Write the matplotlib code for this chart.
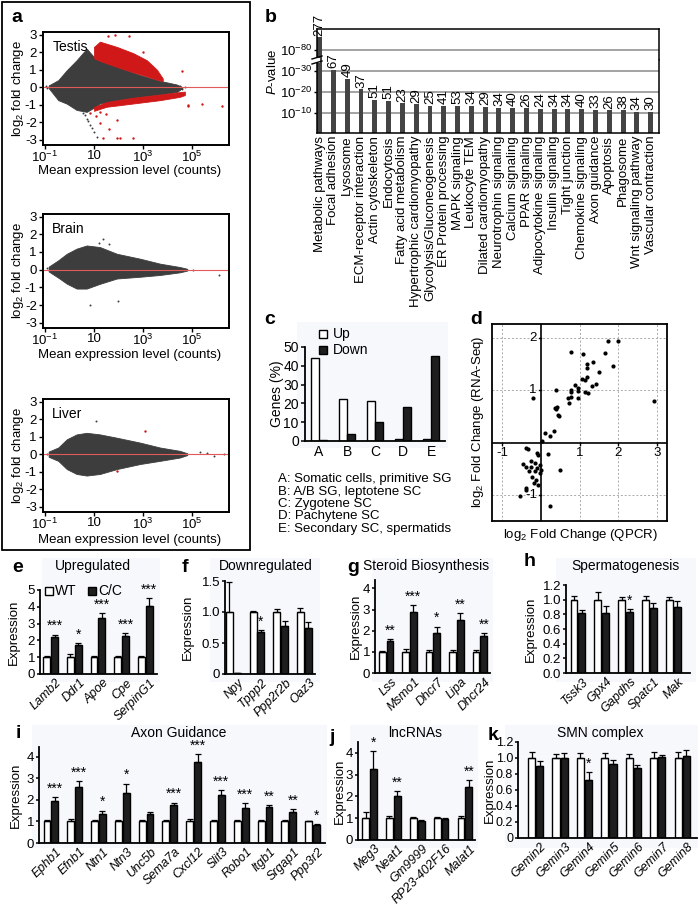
import matplotlib
matplotlib.use("Agg")
import matplotlib.pyplot as plt
from matplotlib.patches import Rectangle
from matplotlib.lines import Line2D
from matplotlib.ticker import NullLocator
import numpy as np

plt.rcParams['font.family'] = ['Liberation Sans', 'DejaVu Sans']
plt.rcParams['font.size'] = 9.5
plt.rcParams['mathtext.fontset'] = 'custom'
plt.rcParams['mathtext.rm'] = 'Liberation Sans'
plt.rcParams['mathtext.it'] = 'Liberation Sans:italic'
plt.rcParams['axes.linewidth'] = 1.1

W, H = 700, 907
GRAY = '#3d3d3d'
RED = '#d01818'
TINT = '#f6f8fc'

# ─── a: MA plots (cloud envelopes in log10 counts / log2 FC) ───
T_X = [-0.85, -0.46, -0.11, 0.29, 0.70, 1.04, 1.24, 1.93, 2.88, 3.69, 4.38, 4.6]
T_TOP = [0.1, 0.4, 0.97, 1.54, 2.2, 1.65, 1.5, 1.16, 0.69, 0.36, 0.15, 0.0]
T_BOT = [-0.05, -0.74, -0.94, -1.3, -1.41, -1.13, -0.93, -0.74, -0.55, -0.42, -0.27, -0.05]
T_RU_X = [1.0, 1.24, 1.93, 2.6, 3.15, 3.56, 3.8]
T_RU_TOP = [2.3, 2.6, 2.3, 1.94, 1.54, 1.0, 0.5]
T_RU_BOT = [1.65, 1.5, 1.16, 0.85, 0.62, 0.43, 0.35]
T_RL_X = [1.0, 1.5, 2.6, 3.69, 4.5, 4.7]
T_RL_TOP = [-1.13, -0.85, -0.6, -0.42, -0.28, -0.25]
T_RL_BOT = [-1.35, -1.12, -0.93, -0.74, -0.55, -0.45]
T_GRAY_PTS = [(0.55, -1.45), (0.63, -1.6), (0.7, -1.8), (0.77, -1.95), (0.84, -2.17),
              (0.92, -2.35), (1.0, -2.55), (1.11, -2.84), (-0.95, 0.05), (-0.9, -0.02),
              (4.5, 0.05), (4.6, -0.1), (4.7, 0.0)]
T_RED_PTS = [(1.08, -1.66), (1.24, -2.04), (1.48, -1.55), (1.62, -2.4), (1.35, -2.9),
             (1.93, -2.9), (2.06, -2.9), (2.6, -2.9), (0.84, -1.5), (1.93, -1.88),
             (1.24, -1.4), (1.57, 2.92), (1.84, 3.0), (2.43, 2.92), (2.99, 2.0),
             (4.6, 0.95), (4.84, -1.0), (4.84, -1.1), (5.4, -0.98), (6.22, -1.05)]

B_X = [-0.85, -0.46, -0.11, 0.29, 0.70, 1.24, 1.93, 2.88, 3.69, 4.5, 4.8]
B_TOP = [0.17, 0.53, 0.9, 1.19, 1.37, 1.28, 0.9, 0.62, 0.34, 0.15, 0.05]
B_BOT = [-0.1, -0.45, -0.79, -1.07, -1.07, -0.8, -0.5, -0.4, -0.3, -0.15, -0.05]
B_GRAY_PTS = [(0.84, -2.0), (1.99, -1.8), (1.38, 1.75), (1.2, 1.5), (5.05, -0.03),
              (6.1, -0.3), (-0.92, 0.1), (1.6, 1.45)]

L_X = [-0.85, -0.46, -0.11, 0.29, 0.70, 1.24, 1.93, 2.88, 3.69, 4.5, 4.8]
L_TOP = [0.15, 0.38, 0.85, 1.13, 1.22, 1.13, 0.94, 0.66, 0.38, 0.19, 0.05]
L_BOT = [-0.15, -0.38, -0.85, -1.13, -1.22, -1.13, -0.85, -0.56, -0.38, -0.19, -0.05]
L_GRAY_PTS = [(1.1, 1.88), (5.3, 0.1), (5.6, 0.05), (5.9, -0.1), (6.3, 0.0), (-0.92, 0.0)]
L_RED_PTS = [(3.08, 1.32), (1.93, -0.98)]

# ─── b: KEGG terms ───
B_TERMS = ["Metabolic pathways", "Focal adhesion", "Lysosome", "ECM-receptor interaction",
           "Actin cytoskeleton", "Endocytosis", "Fatty acid metabolism",
           "Hypertrophic cardiomyopathy", "Glycolysis/Gluconeogenesis", "ER Protein processing",
           "MAPK signaling", "Leukocyte TEM", "Dilated cardiomyopathy", "Neurotrophin signaling",
           "Calcium signaling", "PPAR signaling", "Adipocytokine signaling", "Insulin signaling",
           "Tight junction", "Chemokine signaling", "Axon guidance", "Apoptosis", "Phagosome",
           "Wnt signaling pathway", "Vascular contraction"]
B_COUNTS = [277, 67, 49, 37, 51, 51, 23, 29, 25, 41, 53, 34, 29, 34, 40, 26, 24, 34, 34,
            40, 33, 26, 38, 34, 30]
B_NLOGP = [86.3, 30.5, 26.1, 21.3, 16.3, 15.8, 14.6, 14.1, 13.6, 13.5, 13.5, 13.5, 13.1,
           12.5, 12.5, 12.2, 12.0, 11.9, 11.9, 11.9, 11.6, 11.3, 11.3, 10.6, 10.5]

# ─── c: stage distribution ───
C_STAGES = ['A', 'B', 'C', 'D', 'E']
C_UP = [44, 22.5, 21.5, 1, 1]
C_DOWN = [0.5, 3.5, 10, 18, 45]
C_KEY = ["A: Somatic cells, primitive SG", "B: A/B SG, leptotene SC", "C: Zygotene SC",
         "D: Pachytene SC", "E: Secondary SC, spermatids"]

# ─── d: QPCR vs RNA-Seq ───
D_QPCR = [1.73, 2.0, 0.79, 1.08, 1.67, 1.19, 1.36, 1.19, 1.87, 1.51, 1.19, 1.07, 1.13, 1.43,
          1.32, 0.89, 0.77, 0.77, 0.40, 0.96, 0.95, 1.13, 1.23, -0.2, 2.92, 0.70, 0.77, 0.96,
          0.72, 0.38, 0.41, 0.40, 0.44, 0.46, 0.10, 0.23, 0.34, 0.03, 0.19, 0.50, 0.23,
          -0.34, -0.11, -0.07, -0.26, -0.15, -0.03, -0.24, -0.09, -0.31, -0.15, -0.03, -0.22,
          -0.13, -0.17, -0.07, -0.37, 0.0, -0.37, -0.47, -0.38, -0.39, -0.54]
D_SEQ = [1.95, 1.95, 1.73, 1.69, 1.71, 1.51, 1.55, 1.42, 1.47, 1.35, 1.26, 1.21, 1.19, 1.12,
         1.08, 1.10, 1.0, 0.96, 1.0, 1.04, 0.99, 0.96, 0.94, 0.86, 0.79, 0.86, 0.87, 0.86,
         0.76, 0.67, 0.68, 0.64, 0.52, 0.51, 0.19, 0.13, 0.22, 0.03, -0.22, -0.53, -1.22,
         -0.12, -0.20, -0.23, -0.36, -0.39, -0.42, -0.46, -0.49, -0.55, -0.55, -0.58, -0.65,
         -0.71, -0.78, -0.81, -0.87, -0.52, -0.10, -0.41, -0.46, -0.90, -1.02]

# ─── e-k: qPCR expression (WT vs C/C) ───
E_GENES = ['Lamb2', 'Ddr1', 'Apoe', 'Cpe', 'SerpinG1']
E_WT = [1, 1, 1, 1, 1]
E_WT_ERR = [0.08, 0.2, 0.08, 0.08, 0.08]
E_CC = [2.2, 1.75, 3.35, 2.25, 4.05]
E_CC_ERR = [0.15, 0.12, 0.3, 0.2, 0.5]
E_STARS = ['***', '*', '***', '***', '***']

F_GENES = ['Npy', 'Tppp2', 'Ppp2r2b', 'Oaz3']
F_WT = [1, 1, 1, 1]
F_WT_ERR = [0.48, 0.02, 0.05, 0.07]
F_CC = [0.02, 0.67, 0.77, 0.75]
F_CC_ERR = [0.0, 0.04, 0.08, 0.09]
F_STARS = ['', '*', '', '']

G_GENES = ['Lss', 'Msmo1', 'Dhcr7', 'Lipa', 'Dhcr24']
G_WT = [1, 1, 1, 1, 1]
G_WT_ERR = [0.05, 0.15, 0.1, 0.1, 0.08]
G_CC = [1.5, 2.9, 1.9, 2.5, 1.75]
G_CC_ERR = [0.1, 0.3, 0.3, 0.35, 0.15]
G_STARS = ['**', '***', '*', '**', '**']

HH_GENES = ['Tssk3', 'Gpx4', 'Gapdhs', 'Spatc1', 'Mak']
HH_WT = [1, 1, 1, 1, 1]
HH_WT_ERR = [0.05, 0.1, 0.03, 0.05, 0.04]
HH_CC = [0.82, 0.82, 0.83, 0.89, 0.90]
HH_CC_ERR = [0.04, 0.09, 0.04, 0.07, 0.08]
HH_STARS = ['', '', '*', '', '']

I_GENES = ['Ephb1', 'Efnb1', 'Ntn1', 'Ntn3', 'Unc5b', 'Sema7a', 'Cxcl12', 'Slit3', 'Robo1',
           'Itgb1', 'Srgap1', 'Ppp3r2']
I_WT = [1] * 12
I_WT_ERR = [0.05, 0.12, 0.06, 0.05, 0.07, 0.06, 0.12, 0.05, 0.05, 0.06, 0.05, 0.04]
I_CC = [1.97, 2.6, 1.36, 2.31, 1.34, 1.75, 3.75, 2.23, 1.64, 1.66, 1.44, 0.83]
I_CC_ERR = [0.15, 0.27, 0.14, 0.44, 0.1, 0.12, 0.36, 0.23, 0.2, 0.09, 0.12, 0.05]
I_STARS = ['***', '***', '*', '*', '', '***', '***', '***', '***', '**', '**', '*']

J_GENES = ['Meg3', 'Neat1', 'Gm9999', 'RP23-402F16', 'Malat1']
J_WT = [1, 1, 1, 1, 1]
J_WT_ERR = [0.3, 0.12, 0.05, 0.05, 0.08]
J_CC = [3.26, 2.03, 0.87, 0.95, 2.45]
J_CC_ERR = [0.83, 0.2, 0.03, 0.04, 0.3]
J_STARS = ['*', '**', '', '', '**']

K_GENES = ['Gemin2', 'Gemin3', 'Gemin4', 'Gemin5', 'Gemin6', 'Gemin7', 'Gemin8']
K_WT = [1] * 7
K_WT_ERR = [0.08, 0.05, 0.06, 0.06, 0.05, 0.07, 0.07]
K_CC = [0.9, 1.0, 0.73, 0.93, 0.87, 1.01, 1.03]
K_CC_ERR = [0.06, 0.06, 0.09, 0.05, 0.04, 0.03, 0.07]
K_STARS = ['', '', '*', '', '', '', '']


def add_ax(fig, x0, y0, x1, y1):
    """Axes placed by pixel box (left, top, right, bottom)."""
    return fig.add_axes([x0 / W, 1 - y1 / H, (x1 - x0) / W, (y1 - y0) / H])


def ftext(fig, x, y, s, **kw):
    return fig.text(x / W, 1 - y / H, s, **kw)


def tint(fig, x0, y0, x1, y1):
    fig.patches.append(Rectangle((x0 / W, 1 - y1 / H), (x1 - x0) / W, (y1 - y0) / H,
                                 transform=fig.transFigure, color=TINT, zorder=-5, lw=0))


def letter(fig, x, y, s):
    ftext(fig, x, y, s, fontsize=14, fontweight='bold', ha='center', va='center')


def ma_panel(fig, box, name, gx, gtop, gbot, gray_pts, red_pts, red_regions, xlab_y):
    ax = add_ax(fig, *box)
    ax.set_xscale('log')
    ax.fill_between(10 ** np.array(gx), gbot, gtop, color=GRAY, lw=0.6, edgecolor=GRAY)
    for rx, rtop, rbot in red_regions:
        ax.fill_between(10 ** np.array(rx), rbot, rtop, color=RED, lw=0.6, edgecolor=RED)
    if gray_pts:
        px, py = zip(*gray_pts)
        ax.scatter(10 ** np.array(px), py, s=2, color=GRAY, lw=0)
    if red_pts:
        px, py = zip(*red_pts)
        ax.scatter(10 ** np.array(px), py, s=3, color=RED, lw=0)
    ax.axhline(0, color='#e05a5a', lw=0.8)
    ax.set_xlim(10 ** -1.08, 10 ** 6.5)
    ax.set_ylim(-3.3, 3.15)
    ax.set_xticks([0.1, 10, 1e3, 1e5])
    ax.set_xticklabels([r'$10^{-1}$', '10', r'$10^{3}$', r'$10^{5}$'])
    ax.xaxis.set_minor_locator(NullLocator())
    ax.set_yticks(range(-3, 4))
    ax.set_yticklabels(['-3', '-2', '-1', '0', '1', '2', '3'])
    ax.tick_params(length=3, width=1, pad=1.5, labelsize=9.5)
    ax.tick_params(axis='x', pad=0.5)
    for s in ax.spines.values():
        s.set_linewidth(1.4)
    ax.text(0.05, 0.93, name, transform=ax.transAxes, fontsize=10, va='top')
    ftext(fig, 18, (box[1] + box[3]) / 2, r'log$_2$ fold change', rotation=90,
          ha='center', va='center', fontsize=9.5)
    ftext(fig, 130, xlab_y, 'Mean expression level (counts)', ha='center', va='center',
          fontsize=9.5)
    return ax


def bar_panel(fig, box, genes, wt, wt_err, cc, cc_err, stars, ylim, yticks, ytl, xlim,
              title, title_xy, let, let_xy, ylab_x, tick_fs=9.5):
    ax = add_ax(fig, *box)
    ax.set_facecolor('none')
    x = np.arange(len(genes))
    off, bw = 0.165, 0.29
    ax.bar(x - off, wt, bw, facecolor='white', edgecolor='k', lw=1.0, zorder=2)
    ax.bar(x + off, cc, bw, facecolor='#1e1e1e', edgecolor='k', lw=1.0, zorder=2)
    z = np.zeros(len(genes))
    ax.errorbar(x - off, wt, yerr=[z, wt_err], fmt='none', ecolor='k', elinewidth=0.9,
                capsize=2.2, capthick=0.9, zorder=3)
    ax.errorbar(x + off, cc, yerr=[z, cc_err], fmt='none', ecolor='k', elinewidth=0.9,
                capsize=2.2, capthick=0.9, zorder=3)
    span = ylim[1] - ylim[0]
    for xi, v, e, st in zip(x, cc, cc_err, stars):
        if st:
            ax.text(xi + off, v + e + 0.015 * span, st, ha='center', va='bottom', fontsize=10)
    ax.set_xlim(*xlim)
    ax.set_ylim(*ylim)
    ax.set_yticks(yticks)
    ax.set_yticklabels(ytl)
    ax.set_xticks(x + 0.2)
    ax.set_xticklabels(genes, rotation=45, ha='right', va='top', rotation_mode='anchor',
                       style='italic', fontsize=9)
    ax.tick_params(axis='x', length=0, pad=2)
    ax.tick_params(axis='y', length=2.5, width=1.1, pad=1, labelsize=tick_fs)
    ax.spines['top'].set_visible(False)
    ax.spines['right'].set_visible(False)
    for s in ('left', 'bottom'):
        ax.spines[s].set_linewidth(1.3)
    ftext(fig, title_xy[0], title_xy[1], title, ha='center', va='center', fontsize=10)
    letter(fig, let_xy[0], let_xy[1], let)
    ftext(fig, ylab_x, (box[1] + box[3]) / 2, 'Expression', rotation=90, ha='center',
          va='center', fontsize=9.5)
    return ax


fig = plt.figure(figsize=(W / 100, H / 100), dpi=100)
fig.patch.set_facecolor('white')

# ─── panel a ───
fig.patches.append(Rectangle((2 / W, 1 - 550 / H), 248 / W, 548 / H, transform=fig.transFigure,
                             fill=False, edgecolor='k', lw=1.3))
letter(fig, 17, 17, 'a')
ma_panel(fig, (43, 32, 229, 145), 'Testis', T_X, T_TOP, T_BOT, T_GRAY_PTS, T_RED_PTS,
         [(T_RU_X, T_RU_TOP, T_RU_BOT), (T_RL_X, T_RL_TOP, T_RL_BOT)], 171)
ma_panel(fig, (43, 214, 229, 328), 'Brain', B_X, B_TOP, B_BOT, B_GRAY_PTS, [], [], 355)
ma_panel(fig, (43, 399, 229, 512), 'Liver', L_X, L_TOP, L_BOT, L_GRAY_PTS, L_RED_PTS, [], 540)

# ─── panel b (broken y axis) ───
letter(fig, 271, 17, 'b')
ax_up = add_ax(fig, 317, 29, 659, 60)
ax_lo = add_ax(fig, 317, 60, 659, 133)
xb = np.arange(len(B_TERMS))
for ax in (ax_up, ax_lo):
    ax.bar(xb, B_NLOGP, 0.36, color='#444444', zorder=2)
    ax.set_xlim(-0.19, 24.6)
    ax.tick_params(axis='x', length=0)
    ax.tick_params(axis='y', length=2.5, width=1, pad=1, labelsize=9.5)
ax_up.set_ylim(75.3, 89.9)
ax_lo.set_ylim(0.55, 35.2)
ax_up.set_yticks([80])
ax_up.set_yticklabels([r'$10^{-80}$'])
ax_lo.set_yticks([10, 20, 30])
ax_lo.set_yticklabels([r'$10^{-10}$', r'$10^{-20}$', r'$10^{-30}$'])
ax_up.axhline(80, color='#8a8a8a', lw=1.1, zorder=1)
for v in (10, 20, 30):
    ax_lo.axhline(v, color='#8a8a8a', lw=1.1, zorder=1)
ax_up.set_xticks([])
ax_up.spines['bottom'].set_visible(False)
ax_lo.spines['top'].set_visible(False)
ax_lo.set_xticks(xb)
ax_lo.set_xticklabels(B_TERMS, rotation=90, ha='center', va='top', fontsize=9.5)
ax_lo.tick_params(axis='x', pad=2)
ax_up.text(0, B_NLOGP[0] + 0.5, str(B_COUNTS[0]), rotation=90, ha='center', va='bottom',
           fontsize=9.5, clip_on=False)
for xi, v, n in zip(xb[1:], B_NLOGP[1:], B_COUNTS[1:]):
    ax_lo.text(xi, v + 0.8, str(n), rotation=90, ha='center', va='bottom', fontsize=9.5)
# break marks on the left spine
fig.patches.append(Rectangle((314 / W, 1 - 62.5 / H), 6 / W, 5 / H, transform=fig.transFigure,
                             color='white', zorder=5, lw=0))
for yy in (57.5, 62.5):
    fig.lines.append(Line2D([312 / W, 322 / W], [1 - (yy + 1.5) / H, 1 - (yy - 1.5) / H],
                            transform=fig.transFigure, color='k', lw=1, zorder=6))
ftext(fig, 273, 72, r'$\it{P}$-value', rotation=90, ha='center', va='center', fontsize=9.5)

# ─── panel c ───
tint(fig, 297, 322, 448, 448)
letter(fig, 270, 320, 'c')
axc = add_ax(fig, 305, 347, 445, 441)
axc.set_facecolor('none')
xc = np.arange(len(C_STAGES))
axc.bar(xc - 0.145, C_UP, 0.26, facecolor='white', edgecolor='k', lw=1.0)
axc.bar(xc + 0.145, C_DOWN, 0.26, facecolor='#1e1e1e', edgecolor='k', lw=1.0)
axc.set_xlim(-0.5, 4.5)
axc.set_ylim(0, 50)
axc.set_yticks(range(0, 51, 10))
axc.set_xticks(xc)
axc.set_xticklabels(C_STAGES, fontsize=10)
axc.tick_params(axis='x', length=0, pad=3)
axc.tick_params(axis='y', length=3, width=1.1, pad=1.5, labelsize=10)
axc.spines['top'].set_visible(False)
axc.spines['right'].set_visible(False)
for s in ('left', 'bottom'):
    axc.spines[s].set_linewidth(1.3)
ftext(fig, 277, 394, 'Genes (%)', rotation=90, ha='center', va='center', fontsize=10)
for yy, lab, fc in ((334, 'Up', 'white'), (350, 'Down', '#1e1e1e')):
    fig.patches.append(Rectangle((319 / W, 1 - (yy + 4) / H), 8 / W, 8 / H,
                                 transform=fig.transFigure, facecolor=fc, edgecolor='k', lw=1))
    ftext(fig, 333, yy, lab, ha='left', va='center', fontsize=10)
for i, line in enumerate(C_KEY):
    ftext(fig, 278, 479 + 12.5 * i, line, ha='left', va='center', fontsize=9.5)

# ─── panel d ───
letter(fig, 476, 320, 'd')
axd = add_ax(fig, 492, 324, 667, 521)
axd.set_xlim(-1.26, 3.26)
axd.set_ylim(-1.5, 2.27)
for v in (-1, 1, 2, 3):
    axd.axvline(v, color='#aaaaaa', lw=0.7, ls=(0, (2, 2)))
for v in (-1, 1, 2):
    axd.axhline(v, color='#aaaaaa', lw=0.7, ls=(0, (2, 2)))
axd.axhline(0, color='k', lw=1.2)
axd.axvline(0, color='k', lw=1.2)
axd.scatter(D_QPCR, D_SEQ, s=9, color='k', lw=0, zorder=3)
axd.set_xticks([])
axd.set_yticks([])
for s in axd.spines.values():
    s.set_linewidth(1.3)
for v in (-1, 1, 2, 3):
    axd.plot([v, v], [0, -0.05], color='k', lw=1)
    axd.text(v, -0.09, str(v), ha='center', va='top', fontsize=9.5)
for v in (-1, 1, 2):
    axd.plot([0, -0.05], [v, v], color='k', lw=1)
    axd.text(-0.1, v, str(v), ha='right', va='center', fontsize=9.5)
ftext(fig, 478, 422, r'log$_2$ Fold Change (RNA-Seq)', rotation=90, ha='center',
      va='center', fontsize=9.5)
ftext(fig, 580, 535, r'log$_2$ Fold Change (QPCR)', ha='center', va='center', fontsize=9.5)

# ─── panels e-h ───
tint(fig, 42, 558, 160, 682)
tint(fig, 210, 558, 320, 682)
tint(fig, 372, 558, 493, 682)
tint(fig, 556, 558, 696, 682)
bar_panel(fig, (40, 590, 157, 674), E_GENES, E_WT, E_WT_ERR, E_CC, E_CC_ERR, E_STARS,
          (0, 5), range(6), [str(i) for i in range(6)], (-0.45, 4.5),
          'Upregulated', (93, 566), 'e', (18, 567), 14)
for xx, lab, fc in ((49, 'WT', 'white'), (92, 'C/C', '#1e1e1e')):
    fig.patches.append(Rectangle(((xx - 4) / W, 1 - 595 / H), 8 / W, 8 / H,
                                 transform=fig.transFigure, facecolor=fc, edgecolor='k', lw=1))
    ftext(fig, xx + 6, 591, lab, ha='left', va='center', fontsize=10)

bar_panel(fig, (225, 581, 315, 674), F_GENES, F_WT, F_WT_ERR, F_CC, F_CC_ERR, F_STARS,
          (0, 1.5), [0, 0.5, 1.0, 1.5], ['0', '0.5', '1.0', '1.5'], (-0.35, 3.45),
          'Downregulated', (266, 566), 'f', (185, 567), 188)
bar_panel(fig, (375, 580, 490, 673), G_GENES, G_WT, G_WT_ERR, G_CC, G_CC_ERR, G_STARS,
          (0, 4.4), range(5), [str(i) for i in range(5)], (-0.47, 4.43),
          'Steroid Biosynthesis', (426, 566), 'g', (353, 567), 356)
bar_panel(fig, (566, 585, 690, 673), HH_GENES, HH_WT, HH_WT_ERR, HH_CC, HH_CC_ERR, HH_STARS,
          (0, 1.2), [0, 0.2, 0.4, 0.6, 0.8, 1.0, 1.2],
          ['0.0', '0.2', '0.4', '0.6', '0.8', '1.0', '1.2'], (-0.5, 4.7),
          'Spermatogenesis', (625, 566), 'h', (530, 562), 531)

# ─── panels i-k ───
tint(fig, 32, 725, 327, 848)
tint(fig, 350, 725, 478, 848)
tint(fig, 505, 725, 698, 848)
bar_panel(fig, (39, 747, 325, 843), I_GENES, I_WT, I_WT_ERR, I_CC, I_CC_ERR, I_STARS,
          (0, 4.45), range(5), [str(i) for i in range(5)], (-0.5, 11.52),
          'Axon Guidance', (179, 733), 'i', (18, 734), 16)
bar_panel(fig, (358, 742, 475, 840), J_GENES, J_WT, J_WT_ERR, J_CC, J_CC_ERR, J_STARS,
          (0, 4.5), range(5), [str(i) for i in range(5)], (-0.48, 4.42),
          'lncRNAs', (415, 733), 'j', (332, 737), 340)
bar_panel(fig, (518, 742, 697, 838), K_GENES, K_WT, K_WT_ERR, K_CC, K_CC_ERR, K_STARS,
          (0, 1.2), [0, 0.2, 0.4, 0.6, 0.8, 1.0, 1.2],
          ['0', '0.2', '0.4', '0.6', '0.8', '1.0', '1.2'], (-0.72, 6.6),
          'SMN complex', (600, 733), 'k', (493, 735), 490, tick_fs=9)

fig.savefig('out.png', dpi=100)
